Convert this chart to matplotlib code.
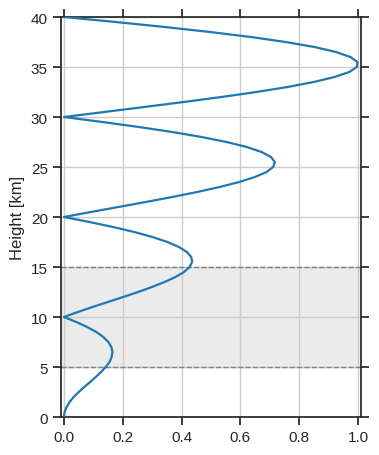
import matplotlib
matplotlib.use("Agg")
from matplotlib import pyplot as plt
import seaborn as sns

# heights (km) and normalised profile values
height = [0, 0.5, 1, 1.5, 2, 2.5, 3, 3.5, 4, 4.5,
          5, 5.5, 6, 6.5, 7, 7.5, 8, 8.5, 9, 9.5,
          10, 10.5, 11, 11.5, 12, 12.5, 13, 13.5, 14, 14.5,
          15, 15.5, 16, 16.5, 17, 17.5, 18, 18.5, 19, 19.5,
          20, 20.5, 21, 21.5, 22, 22.5, 23, 23.5, 24, 24.5,
          25, 25.5, 26, 26.5, 27, 27.5, 28, 28.5, 29, 29.5,
          30, 30.5, 31, 31.5, 32, 32.5, 33, 33.5, 34, 34.5,
          35, 35.5, 36, 36.5, 37, 37.5, 38, 38.5, 39, 39.5, 40]
profile = [0.000, 0.002, 0.009, 0.019, 0.033, 0.050, 0.069, 0.089, 0.108, 0.126,
           0.142, 0.155, 0.162, 0.165, 0.161, 0.151, 0.134, 0.110, 0.079, 0.042,
           0.000, 0.047, 0.097, 0.149, 0.201, 0.252, 0.299, 0.342, 0.379, 0.408,
           0.427, 0.436, 0.433, 0.418, 0.391, 0.352, 0.301, 0.239, 0.167, 0.087,
           0.000, 0.091, 0.185, 0.278, 0.368, 0.453, 0.529, 0.596, 0.649, 0.689,
           0.711, 0.717, 0.704, 0.672, 0.622, 0.553, 0.468, 0.368, 0.255, 0.131,
           0.000, 0.136, 0.273, 0.407, 0.535, 0.654, 0.760, 0.849, 0.920, 0.970,
           0.996, 0.998, 0.974, 0.925, 0.852, 0.754, 0.636, 0.497, 0.343, 0.176, 0.000]

band = (5, 15)

sns.set_theme(style="ticks", context="notebook")
plt.rcParams["font.family"] = ["Liberation Sans", "DejaVu Sans"]

fig = plt.figure(figsize=(3.79, 4.56), dpi=100)
ax = fig.add_axes([0.161, 0.0833, 0.7915, 0.8772])

ax.axhspan(band[0], band[1], color="#ebebeb", zorder=0)
for b in band:
    ax.axhline(b, color="gray", linestyle="--", linewidth=1, zorder=1)

ax.plot(profile, height, color="#1f77b4", linewidth=1.6, zorder=3)

ax.grid(True, color="#cccccc", linewidth=1)
ax.set_axisbelow(True)
ax.set_xlim(-0.01, 1.01)
ax.set_ylim(0, 40)
ax.set_xticks([0, 0.2, 0.4, 0.6, 0.8, 1.0])
ax.set_yticks(range(0, 41, 5))
ax.tick_params(top=True, right=True, direction="out")
ax.set_ylabel("Height [km]")

fig.savefig("out.png", dpi=100)
